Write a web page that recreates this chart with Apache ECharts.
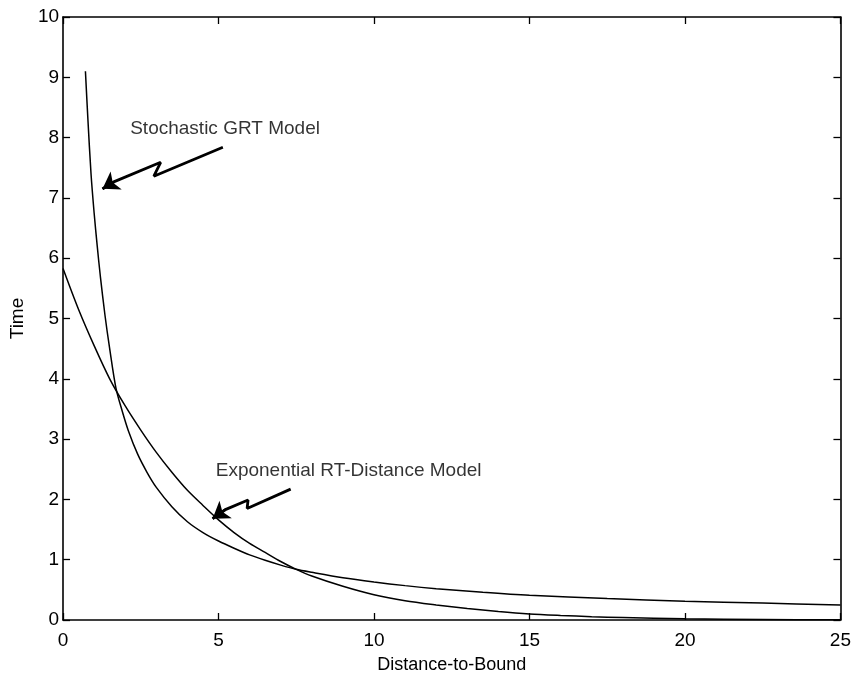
<!DOCTYPE html>
<html>
<head>
<meta charset="utf-8">
<script src="https://cdn.jsdelivr.net/npm/echarts@6/dist/echarts.min.js"></script>
<style>
  html, body { margin: 0; padding: 0; background: #fff; }
  #chart { width: 854px; height: 679px; }
</style>
</head>
<body>
<div id="chart"></div>
<script>
// Stochastic GRT model (steep curve, slow tail)
const grtX = [0.72, 0.8, 0.9, 1.0, 1.1, 1.2, 1.35, 1.5, 1.7, 1.9, 2.1, 2.4, 2.7, 3.0, 3.5, 4.0, 4.5, 5.0, 5.5, 6.0, 6.5, 7.0, 7.5, 8, 9, 10, 11, 12, 13.5, 15, 17.5, 20, 22.5, 25]
const grtY = [9.1, 8.3, 7.4, 6.75, 6.2, 5.7, 5.05, 4.5, 3.85, 3.47, 3.14, 2.75, 2.45, 2.2, 1.88, 1.63, 1.45, 1.31, 1.19, 1.08, 0.99, 0.91, 0.84, 0.79, 0.7, 0.63, 0.57, 0.52, 0.46, 0.41, 0.355, 0.31, 0.28, 0.25]

// Exponential RT-distance model
const expX = [0, 0.5, 1, 1.5, 2, 2.5, 3, 3.5, 4, 4.5, 5, 5.5, 6, 6.5, 7, 7.5, 8, 9, 10, 11, 12, 13, 14, 15, 16, 17, 18, 20, 22.5, 25]
const expY = [5.83, 5.15, 4.55, 4.0, 3.55, 3.15, 2.78, 2.45, 2.15, 1.9, 1.66, 1.45, 1.27, 1.12, 0.97, 0.84, 0.73, 0.56, 0.42, 0.32, 0.25, 0.19, 0.14, 0.1, 0.075, 0.055, 0.04, 0.02, 0.008, 0.003]

// axis ranges
const xMin = 0, xMax = 25, xStep = 5
const yMin = 0, yMax = 10, yStep = 1

const pairs = (xs, ys) => xs.map((x, i) => [x, ys[i]])

// zigzag arrows, in data units
const grtArrow = [[5.14, 7.84], [2.92, 7.36], [3.14, 7.59], [1.65, 7.27], [1.27, 7.15]]
const expArrow = [[7.32, 2.17], [5.92, 1.85], [5.95, 1.99], [5.22, 1.83], [4.81, 1.68]]

const font = 'Liberation Sans, Arial, sans-serif'

const chart = echarts.init(document.getElementById('chart'))

function arrowSeries (pts) {
  const n = pts.length
  return {
    type: 'line',
    data: pts,
    symbol: 'none',
    silent: true,
    lineStyle: { color: '#000', width: 2.8 },
    z: 5,
    markLine: {
      silent: true,
      symbol: ['none', 'arrow'],
      symbolSize: 16,
      label: { show: false },
      lineStyle: { color: '#000', width: 2.8, type: 'solid' },
      data: [[{ coord: pts[n - 2] }, { coord: pts[n - 1] }]],
    },
  }
}

function textSeries (pos, text) {
  return {
    type: 'scatter',
    data: [pos],
    symbolSize: 0,
    silent: true,
    label: {
      show: true,
      position: 'right',
      distance: 0,
      formatter: text,
      color: '#000',
      fontFamily: font,
      fontSize: 19,
    },
  }
}

const tickStyle = { inside: true, length: 7, lineStyle: { color: '#000', width: 1.3 } }
const lineStyleAxis = { show: true, onZero: false, lineStyle: { color: '#000', width: 1.6 } }
const labelStyle = { color: '#000', fontFamily: font, fontSize: 19 }

const option = {
  backgroundColor: '#fff',
  animation: false,
  grid: { left: 60, right: 12, top: 17, bottom: 55 },
  xAxis: [
    {
      type: 'value', min: xMin, max: xMax, interval: xStep,
      name: 'Distance-to-Bound', nameLocation: 'middle', nameGap: 36,
      nameTextStyle: { color: '#000', fontFamily: font, fontSize: 18 },
      axisLine: lineStyleAxis, axisTick: tickStyle,
      axisLabel: { ...labelStyle, margin: 11 },
      splitLine: { show: false },
    },
    {
      type: 'value', min: xMin, max: xMax, interval: xStep, position: 'top',
      axisLine: lineStyleAxis, axisTick: tickStyle,
      axisLabel: { show: false }, splitLine: { show: false },
    },
  ],
  yAxis: [
    {
      type: 'value', min: yMin, max: yMax, interval: yStep,
      name: 'Time', nameLocation: 'middle', nameGap: 36,
      nameTextStyle: { color: '#000', fontFamily: font, fontSize: 19 },
      axisLine: lineStyleAxis, axisTick: tickStyle,
      axisLabel: { ...labelStyle, margin: 4 },
      splitLine: { show: false },
    },
    {
      type: 'value', min: yMin, max: yMax, interval: yStep, position: 'right',
      axisLine: lineStyleAxis, axisTick: tickStyle,
      axisLabel: { show: false }, splitLine: { show: false },
    },
  ],
  series: [
    {
      name: 'Stochastic GRT Model',
      type: 'line',
      data: pairs(grtX, grtY),
      smooth: 0.3,
      symbol: 'none',
      lineStyle: { color: '#000', width: 1.5 },
    },
    {
      name: 'Exponential RT-Distance Model',
      type: 'line',
      data: pairs(expX, expY),
      smooth: 0.3,
      symbol: 'none',
      lineStyle: { color: '#000', width: 1.5 },
    },
    arrowSeries(grtArrow),
    arrowSeries(expArrow),
    textSeries([2.16, 8.14], 'Stochastic GRT Model'),
    textSeries([4.91, 2.47], 'Exponential RT-Distance Model'),
  ],
}

chart.setOption(option)
</script>
</body>
</html>
